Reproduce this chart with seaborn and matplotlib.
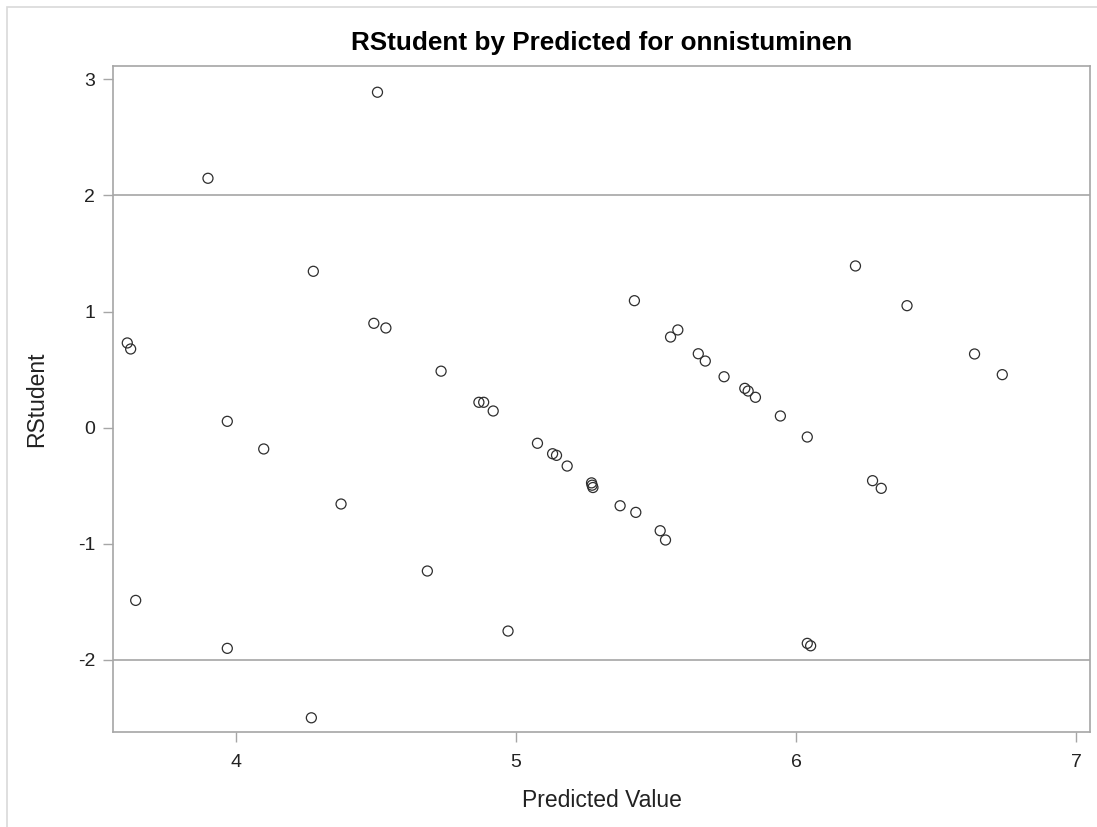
import matplotlib
matplotlib.use("Agg")
import matplotlib.pyplot as plt
import seaborn as sns
import pandas as pd

# Predicted values and studentized residuals for the onnistuminen model
predicted = [3.613, 3.625, 3.643, 3.901, 3.970, 3.970, 4.100, 4.270, 4.277, 4.376,
             4.493, 4.506, 4.536, 4.684, 4.733, 4.868, 4.885, 4.919, 4.972, 5.077,
             5.131, 5.145, 5.183, 5.270, 5.272, 5.275, 5.372, 5.423, 5.428, 5.515,
             5.534, 5.552, 5.578, 5.651, 5.676, 5.743, 5.817, 5.829, 5.855, 5.944,
             6.040, 6.040, 6.052, 6.212, 6.273, 6.304, 6.396, 6.637, 6.736]
rstudent = [0.730, 0.678, -1.487, 2.148, 0.055, -1.900, -0.183, -2.498, 1.347, -0.657,
            0.899, 2.889, 0.859, -1.234, 0.487, 0.219, 0.219, 0.144, -1.751, -0.134,
            -0.224, -0.238, -0.330, -0.475, -0.495, -0.515, -0.672, 1.094, -0.729, -0.887,
            -0.967, 0.781, 0.842, 0.637, 0.574, 0.439, 0.339, 0.316, 0.262, 0.101,
            -0.080, -1.857, -1.878, 1.393, -0.456, -0.522, 1.051, 0.635, 0.457]

x_ticks = [4, 5, 6, 7]
y_ticks = [-2, -1, 0, 1, 2, 3]
ref_lines = [-2, 2]

title = "RStudent by Predicted for onnistuminen"
x_label = "Predicted Value"
y_label = "RStudent"

df = pd.DataFrame({"Predicted": predicted, "RStudent": rstudent})

sns.set_theme(style="white")
plt.rcParams["font.family"] = ["Liberation Sans", "DejaVu Sans"]

GRAY = "#a6a6a6"
TEXT = "#222222"

fig = plt.figure(figsize=(10.97, 8.27), dpi=100)
fig.patch.set_facecolor("white")
ax = fig.add_axes([0.1030, 0.1152, 0.8906, 0.8050])

# thin outer border of the graph area
border = plt.Rectangle((7 / 1097, -0.05), 1.2, 1 - 7 / 827 + 0.05,
                       transform=fig.transFigure, fill=False,
                       edgecolor="#d9d9d9", linewidth=1.2, zorder=-1)
fig.add_artist(border)

for yv in ref_lines:
    ax.axhline(yv, color=GRAY, linewidth=1.2, zorder=1)

sns.scatterplot(data=df, x="Predicted", y="RStudent", ax=ax,
                marker="o", s=52, facecolor="none", edgecolor="#2e2e2e",
                linewidth=0.9, zorder=3)

ax.set_xlim(3.562, 7.049)
ax.set_ylim(-2.618, 3.115)
ax.set_xticks(x_ticks)
ax.set_yticks(y_ticks)
ax.set_xticklabels([str(v) for v in x_ticks])
ax.set_yticklabels([str(v) for v in y_ticks])

for sp in ax.spines.values():
    sp.set_visible(True)
    sp.set_color(GRAY)
    sp.set_linewidth(1.2)

ax.tick_params(axis="both", which="major", direction="out", length=7.2,
               width=1.0, color=GRAY, labelsize=14, labelcolor=TEXT,
               bottom=True, left=True, top=False, right=False)
ax.tick_params(axis="x", pad=8.5)
ax.tick_params(axis="y", pad=5.5)

ax.set_xlabel("")
ax.set_ylabel("")
fig.text(0.5483, 1 - 807 / 827, x_label, ha="center", va="baseline",
         fontsize=16.5, color=TEXT)
fig.text(37 / 1097, 1 - 399 / 827, y_label, ha="center", va="center",
         rotation=90, fontsize=16.5, color=TEXT)
fig.text(0.5483, 1 - 50 / 827, title, ha="center", va="baseline",
         fontsize=18.8, fontweight="bold", color="black")

fig.savefig("out.png", dpi=100, facecolor="white")
